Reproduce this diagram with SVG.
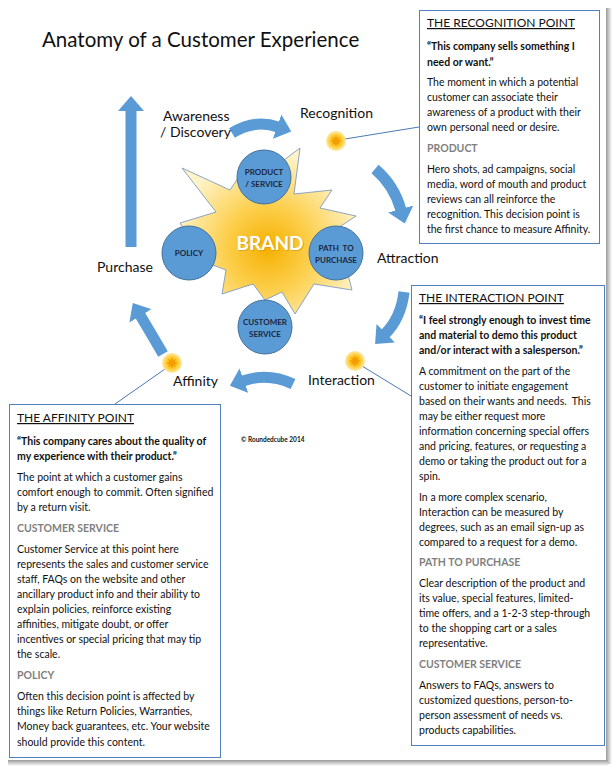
<svg xmlns="http://www.w3.org/2000/svg" width="616" height="770" viewBox="0 0 616 770">
<defs>
<style>
text{font-family:Lato,"Liberation Sans",sans-serif;fill:#111;}
.title{font-size:20.5px;}
.lbl{font-size:14px;}
.body{font-size:10.5px;}
.q{font-size:10.5px;font-weight:bold;}
.sub{font-size:10.5px;font-weight:bold;fill:#7f7f7f;}
.head{font-size:12px;text-decoration:underline;}
.box{fill:#fff;stroke:#4f81bd;stroke-width:1;}
.circ{fill:#5b9bd5;stroke:#41719c;stroke-width:1;}
.ctext{font-size:8px;font-weight:bold;fill:#1a2642;text-anchor:middle;}
.arc{fill:none;stroke:#5b9bd5;stroke-width:11;}
.conn{stroke:#4a7ab5;stroke-width:1;fill:none;}
</style>
<radialGradient id="starG" cx="268" cy="248" r="95" gradientUnits="userSpaceOnUse">
<stop offset="0" stop-color="#f5b000"/>
<stop offset="0.45" stop-color="#fccf4d"/>
<stop offset="1" stop-color="#fff3c8"/>
</radialGradient>
<radialGradient id="sunG">
<stop offset="0" stop-color="#f7a800"/>
<stop offset="0.55" stop-color="#ffc929"/>
<stop offset="1" stop-color="#ffe9a8"/>
</radialGradient>
<linearGradient id="shR" x1="0" x2="1" y1="0" y2="0">
<stop offset="0" stop-color="#9a9a9a"/>
<stop offset="1" stop-color="#ffffff"/>
</linearGradient>
<linearGradient id="shB" x1="0" x2="0" y1="0" y2="1">
<stop offset="0" stop-color="#9a9a9a"/>
<stop offset="1" stop-color="#ffffff"/>
</linearGradient>
<marker id="ah" markerUnits="userSpaceOnUse" markerWidth="16" markerHeight="26" refX="1" refY="13" orient="auto">
<path d="M0,0 L15,13 L0,26 Z" fill="#5b9bd5"/>
</marker>
<g id="sun">
<circle r="10" fill="url(#sunG)"/>
<path d="M0,-6 L1.2,-2.5 L4.2,-4.2 L2.5,-1.2 L6,0 L2.5,1.2 L4.2,4.2 L1.2,2.5 L0,6 L-1.2,2.5 L-4.2,4.2 L-2.5,1.2 L-6,0 L-2.5,-1.2 L-4.2,-4.2 L-1.2,-2.5 Z" fill="#f59d00"/>
</g>
</defs>

<rect x="0" y="0" width="616" height="770" fill="#fff"/>
<rect x="606" y="8" width="6" height="756" fill="url(#shR)"/>
<rect x="8" y="760" width="600" height="6" fill="url(#shB)"/>

<text class="title" x="42" y="47">Anatomy of a Customer Experience</text>

<!-- connectors -->
<g id="connectors">
<path d="M131,247 L131,110" stroke="#5b9bd5" stroke-width="11" fill="none"/>
<path d="M118,111 L131,96 L144,111 Z" fill="#5b9bd5"/>
<path class="arc" d="M232,133 Q255,119 278,127" marker-end="url(#ah)"/>
<path class="arc" d="M375,169 Q394,185 401,210" marker-end="url(#ah)"/>
<path class="arc" d="M404,292 Q401,318 385,334" marker-end="url(#ah)"/>
<path class="arc" d="M293,384 Q268,372 243,381" marker-end="url(#ah)"/>
<path class="arc" d="M163,354 Q152,335 140,315" marker-end="url(#ah)"/>
<line class="conn" x1="345" y1="139" x2="419" y2="127"/>
<line class="conn" x1="362" y1="366" x2="411" y2="396"/>
<line class="conn" x1="165" y1="369" x2="115" y2="404"/>
</g>

<g id="labels">
<text class="lbl" x="163" y="121">Awareness</text>
<text class="lbl" x="160" y="137">/ Discovery</text>
<text class="lbl" x="300" y="118">Recognition</text>
<text class="lbl" x="377" y="263">Attraction</text>
<text class="lbl" x="308" y="385">Interaction</text>
<text class="lbl" x="173" y="386">Affinity</text>
<text class="lbl" x="97" y="272">Purchase</text>
</g>

<g id="suns">
<use href="#sun" x="336" y="141"/>
<use href="#sun" x="355" y="361"/>
<use href="#sun" x="172" y="363"/>
</g>

<g id="brand">
<path d="M300,148 L294,194 L332,190 L320,208 L356,216 L332,232 L342,252 L352,290 L314,284 L295,314 L282,292 L265,300 L253,284 L222,294 L226,270 L205,262 L180,223 L216,212 L182,168 L230,190 L240,175 L262,198 L276,166 Z" fill="url(#starG)" stroke="#6f8fbf" stroke-width="0.8"/>
<text x="271" y="251" font-size="19" font-weight="bold" text-anchor="middle" style="fill:#c98a00;opacity:0.5">BRAND</text>
<text x="270" y="250" font-size="19" font-weight="bold" text-anchor="middle" style="fill:#fff">BRAND</text>
</g>

<g id="node-product">
<circle class="circ" cx="264" cy="177" r="27"/>
<text class="ctext" x="264" y="175">PRODUCT</text>
<text class="ctext" x="264" y="187">/ SERVICE</text>
</g>
<g id="node-policy">
<circle class="circ" cx="189" cy="253" r="27"/>
<text class="ctext" x="189" y="256">POLICY</text>
</g>
<g id="node-path">
<circle class="circ" cx="336" cy="253" r="27"/>
<text class="ctext" x="336" y="251" xml:space="preserve">PATH  TO</text>
<text class="ctext" x="336" y="263">PURCHASE</text>
</g>
<g id="node-customer">
<circle class="circ" cx="265" cy="327" r="27"/>
<text class="ctext" x="265" y="325">CUSTOMER</text>
<text class="ctext" x="265" y="337">SERVICE</text>
</g>

<text x="241" y="442" font-size="6.5" font-weight="bold">© Roundedcube 2014</text>

<g id="recognition-box">
<rect class="box" x="419.5" y="10.5" width="180" height="233"/>
<text class="head" x="427" y="27">THE RECOGNITION POINT</text>
<text class="q" x="427" y="50">“This company sells something I</text>
<text class="q" x="427" y="66">need or want.”</text>
<text class="body" x="427" y="86">The moment in which a potential</text>
<text class="body" x="427" y="101">customer can associate their</text>
<text class="body" x="427" y="116">awareness of a product with their</text>
<text class="body" x="427" y="131">own personal need or desire.</text>
<text class="sub" x="427" y="152">PRODUCT</text>
<text class="body" x="427" y="173">Hero shots, ad campaigns, social</text>
<text class="body" x="427" y="188">media, word of mouth and product</text>
<text class="body" x="427" y="203">reviews can all reinforce the</text>
<text class="body" x="427" y="218">recognition. This decision point is</text>
<text class="body" x="427" y="233">the first chance to measure Affinity.</text>
</g>

<g id="interaction-box">
<rect class="box" x="411.5" y="285.5" width="193" height="460"/>
<text class="head" x="419" y="302">THE INTERACTION POINT</text>
<text class="q" x="419" y="324">“I feel strongly enough to invest time</text>
<text class="q" x="419" y="339">and material to demo this product</text>
<text class="q" x="419" y="354">and/or interact with a salesperson.”</text>
<text class="body" x="419" y="375">A commitment on the part of the</text>
<text class="body" x="419" y="390">customer to initiate engagement</text>
<text class="body" x="419" y="405" xml:space="preserve">based on their wants and needs.  This</text>
<text class="body" x="419" y="420">may be either request more</text>
<text class="body" x="419" y="435">information concerning special offers</text>
<text class="body" x="419" y="450">and pricing, features, or requesting a</text>
<text class="body" x="419" y="465">demo or taking the product out for a</text>
<text class="body" x="419" y="480">spin.</text>
<text class="body" x="419" y="501">In a more complex scenario,</text>
<text class="body" x="419" y="516">Interaction can be measured by</text>
<text class="body" x="419" y="531">degrees, such as an email sign-up as</text>
<text class="body" x="419" y="546">compared to a request for a demo.</text>
<text class="sub" x="419" y="566">PATH TO PURCHASE</text>
<text class="body" x="419" y="587">Clear description of the product and</text>
<text class="body" x="419" y="602">its value, special features, limited-</text>
<text class="body" x="419" y="617">time offers, and a 1-2-3 step-through</text>
<text class="body" x="419" y="632">to the shopping cart or a sales</text>
<text class="body" x="419" y="647">representative.</text>
<text class="sub" x="419" y="668">CUSTOMER SERVICE</text>
<text class="body" x="419" y="689">Answers to FAQs, answers to</text>
<text class="body" x="419" y="704">customized questions, person-to-</text>
<text class="body" x="419" y="719">person assessment of needs vs.</text>
<text class="body" x="419" y="734">products capabilities.</text>
</g>

<g id="affinity-box">
<rect class="box" x="9.5" y="404.5" width="211" height="353"/>
<text class="head" x="17" y="422">THE AFFINITY POINT</text>
<text class="q" x="17" y="445">“This company cares about the quality of</text>
<text class="q" x="17" y="460">my experience with their product.”</text>
<text class="body" x="17" y="481">The point at which a customer gains</text>
<text class="body" x="17" y="496">comfort enough to commit. Often signified</text>
<text class="body" x="17" y="511">by a return visit.</text>
<text class="sub" x="17" y="532">CUSTOMER SERVICE</text>
<text class="body" x="17" y="553">Customer Service at this point here</text>
<text class="body" x="17" y="568">represents the sales and customer service</text>
<text class="body" x="17" y="583">staff, FAQs on the website and other</text>
<text class="body" x="17" y="598">ancillary product info and their ability to</text>
<text class="body" x="17" y="613">explain policies, reinforce existing</text>
<text class="body" x="17" y="628">affinities, mitigate doubt, or offer</text>
<text class="body" x="17" y="643">incentives or special pricing that may tip</text>
<text class="body" x="17" y="658">the scale.</text>
<text class="sub" x="17" y="679">POLICY</text>
<text class="body" x="17" y="700">Often this decision point is affected by</text>
<text class="body" x="17" y="715">things like Return Policies, Warranties,</text>
<text class="body" x="17" y="730">Money back guarantees, etc. Your website</text>
<text class="body" x="17" y="746">should provide this content.</text>
</g>
</svg>
